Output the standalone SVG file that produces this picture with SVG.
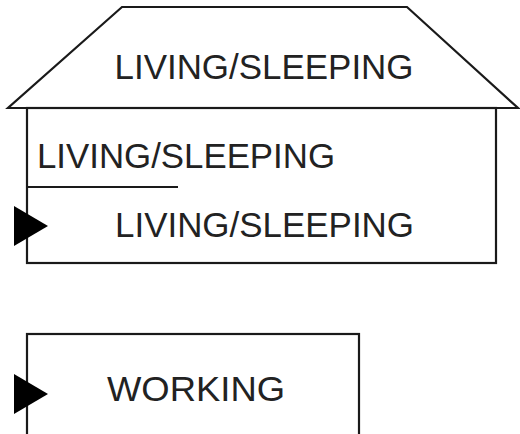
<svg xmlns="http://www.w3.org/2000/svg" xmlns:xlink="http://www.w3.org/1999/xlink" width="520" height="434" viewBox="0 0 520 434">
<style>
.shape{fill:#fff;stroke:#1a1a1a;stroke-width:2.2;stroke-linejoin:miter}
.lbl{font-family:"Liberation Sans",Arial,sans-serif;font-size:35px;fill:#222}
.ah{fill:#000}
</style>
<defs>
<polygon id="arrowhead" points="0,-20 34,0 0,20"/>
</defs>
<rect width="520" height="434" fill="#fff"/>
<g id="roof">
<polygon class="shape" points="122,7 407,7 518,108 8,108"/>
<text class="lbl" x="264" y="79" text-anchor="middle" textLength="299" lengthAdjust="spacingAndGlyphs">LIVING/SLEEPING</text>
</g>
<g id="house">
<rect class="shape" x="27" y="108" width="469" height="155"/>
<line x1="27" y1="187" x2="178" y2="187" stroke="#1a1a1a" stroke-width="2"/>
<text class="lbl" x="37" y="168" textLength="298" lengthAdjust="spacingAndGlyphs">LIVING/SLEEPING</text>
<text class="lbl" x="115" y="237" textLength="299" lengthAdjust="spacingAndGlyphs">LIVING/SLEEPING</text>
</g>
<g id="working">
<rect class="shape" x="27" y="334" width="332" height="120" stroke-width="3"/>
<text class="lbl" x="107" y="401" textLength="178" lengthAdjust="spacingAndGlyphs">WORKING</text>
</g>
<g id="connectors">
<use xlink:href="#arrowhead" class="ah" transform="translate(14,226)"/>
<use xlink:href="#arrowhead" class="ah" transform="translate(14,394)"/>
</g>
</svg>
